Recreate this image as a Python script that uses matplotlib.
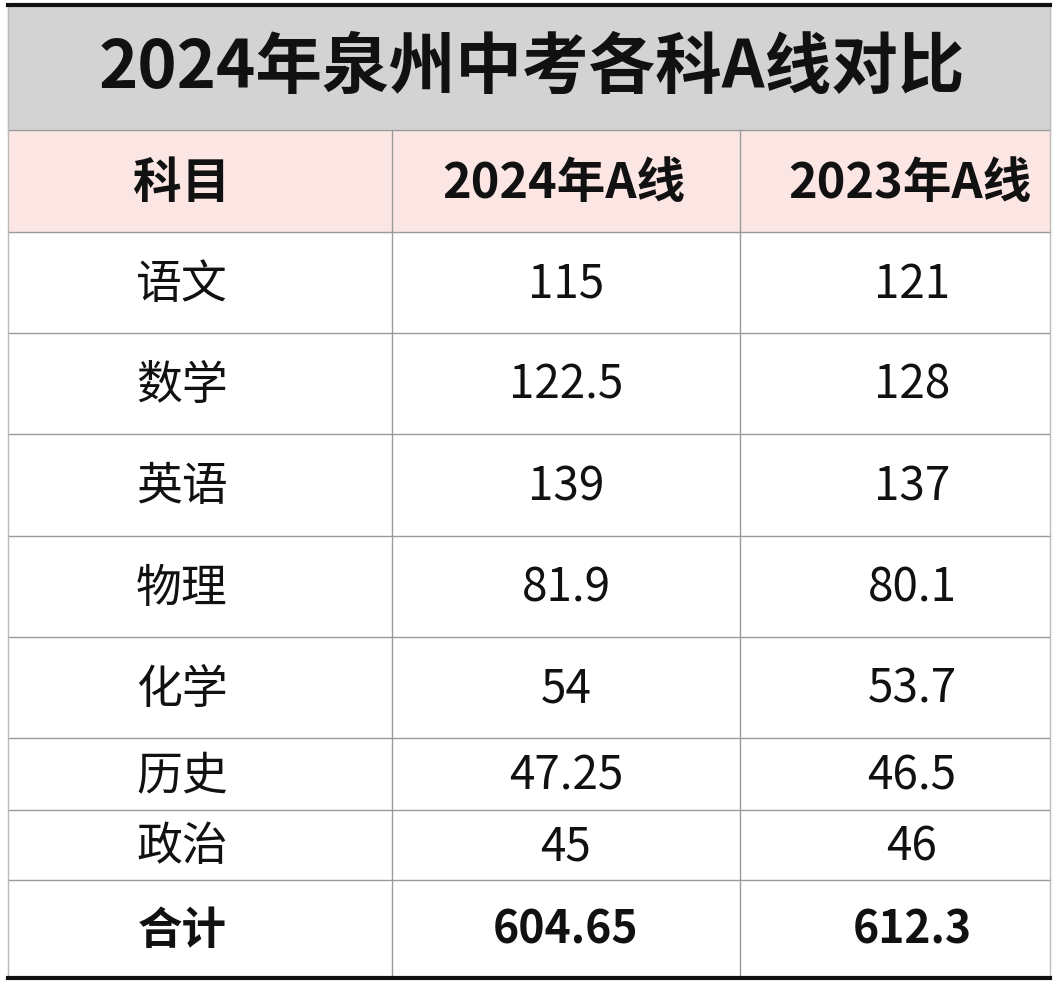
import matplotlib.pyplot as plt
from matplotlib.patches import Rectangle

plt.rcParams['font.family'] = ['Noto Sans CJK SC', 'DejaVu Sans']

title = '2024年泉州中考各科A线对比'
headers = ['科目', '2024年A线', '2023年A线']
subjects = ['语文', '数学', '英语', '物理', '化学', '历史', '政治', '合计']
a2024 = ['115', '122.5', '139', '81.9', '54', '47.25', '45', '604.65']
a2023 = ['121', '128', '137', '80.1', '53.7', '46.5', '46', '612.3']

# layout in pixel coordinates
col_edges = [8, 392, 740, 1050]
row_edges = [232, 333, 434, 536, 637, 738, 810, 880, 978]

fig = plt.figure(figsize=(10.58, 10), dpi=100)
ax = fig.add_axes([0, 0, 1, 1])
ax.set_xlim(0, 1058)
ax.set_ylim(1000, 0)
ax.axis('off')

# title band
ax.add_patch(Rectangle((8, 5), 1042, 125, color='#d3d3d3'))
ax.text(532, 68, title, ha='center', va='center', fontsize=48, fontweight='bold', color='#111111')
# header band
ax.add_patch(Rectangle((8, 130), 1042, 102, color='#fbe6e4'))
hx = [182, 564, 910]
for x, h in zip(hx, headers):
    ax.text(x, 183, h, ha='center', va='center', fontsize=35, fontweight='bold', color='#111111')

# grid lines
for y in [130] + row_edges[:-1]:
    ax.plot([8, 1050], [y, y], color='#9a9a9a', lw=1)
for x in col_edges[1:-1]:
    ax.plot([x, x], [130, 978], color='#9a9a9a', lw=1)
ax.plot([8, 8], [5, 978], color='#bbbbbb', lw=1)
ax.plot([1050, 1050], [5, 978], color='#bbbbbb', lw=1)
ax.plot([8, 1050], [5, 5], color='#111111', lw=3)
ax.plot([8, 1050], [978, 978], color='#111111', lw=3)

for i, (s, v1, v2) in enumerate(zip(subjects, a2024, a2023)):
    yc = (row_edges[i] + row_edges[i + 1]) / 2 + 2
    bold = 'bold' if s == '合计' else 'normal'
    fs = 32 if s == '合计' else 33
    ax.text(182, yc, s, ha='center', va='center', fontsize=fs, fontweight=bold, color='#111111')
    ax.text(566, yc, v1, ha='center', va='center', fontsize=fs, fontweight=bold, color='#111111')
    ax.text(912, yc, v2, ha='center', va='center', fontsize=fs, fontweight=bold, color='#111111')

fig.savefig('out.png', dpi=100)
